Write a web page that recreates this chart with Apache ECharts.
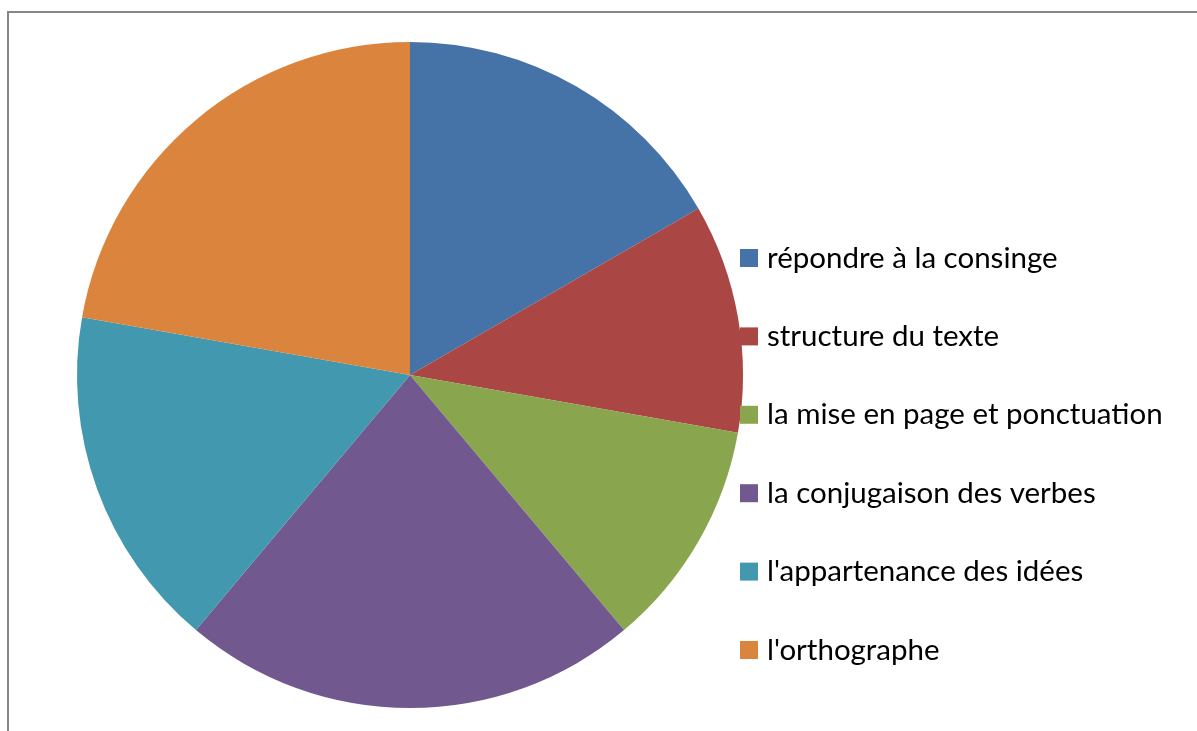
<!DOCTYPE html>
<html>
<head>
<meta charset="utf-8">
<script src="https://cdn.jsdelivr.net/npm/echarts@6/dist/echarts.min.js"></script>
<style>
  html, body { margin: 0; padding: 0; background: #fff; }
  #chart { width: 1197px; height: 731px; }
</style>
</head>
<body>
<div id="chart"></div>
<script>
var categories = [
  'répondre à la consinge',
  'structure du texte',
  'la mise en page et ponctuation',
  'la conjugaison des verbes',
  "l'appartenance des idées",
  "l'orthographe"
]
var values = [3, 2, 2, 4, 3, 4]
var colors = ['#4572A7', '#AA4643', '#89A54E', '#71588F', '#4198AF', '#DB843D']

var myChart = echarts.init(document.getElementById('chart'))
var option = {
  animation: false,
  color: colors,
  graphic: [{
    type: 'rect',
    shape: { x: 8, y: 12, width: 1300, height: 900 },
    style: { fill: 'none', stroke: '#868686', lineWidth: 2 },
    silent: true
  }],
  legend: {
    orient: 'vertical',
    left: 740,
    top: 243,
    padding: 0,
    icon: 'rect',
    itemWidth: 18,
    itemHeight: 18,
    itemGap: 48.4,
    textStyle: {
      fontFamily: 'Lato',
      fontSize: 29.5,
      lineHeight: 30,
      color: '#000',
      padding: [0, 0, 0, 4]
    },
    data: categories
  },
  series: [{
    type: 'pie',
    center: [410, 375],
    radius: 333,
    startAngle: 90,
    clockwise: true,
    label: { show: false },
    labelLine: { show: false },
    itemStyle: { borderWidth: 0 },
    emphasis: { disabled: true },
    data: categories.map(function (name, i) {
      return { name: name, value: values[i] }
    })
  }]
}
myChart.setOption(option)
</script>
</body>
</html>
